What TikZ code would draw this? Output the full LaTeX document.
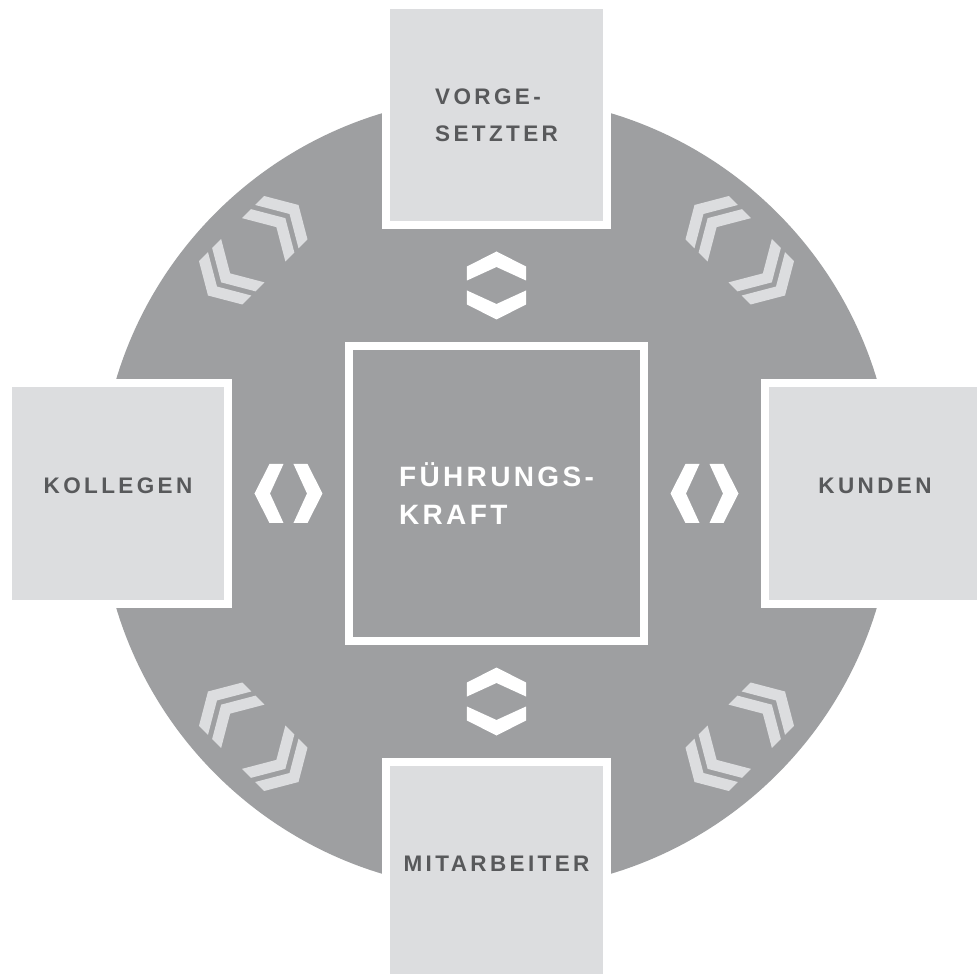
\documentclass[tikz,border=0pt]{standalone}
\usepackage{fontspec}
\setmainfont{Liberation Sans}
\usetikzlibrary{positioning}

\definecolor{ringgray}{RGB}{158,159,161}
\definecolor{boxgray}{RGB}{220,221,223}
\definecolor{labelgray}{RGB}{88,89,91}

\tikzset{
  ring/.style={circle, fill=ringgray, minimum size=794pt, inner sep=0pt},
  leaderbox/.style={draw=white, line width=8pt, fill=ringgray, minimum size=295pt,
    inner sep=0pt, text=white, align=left,
    font=\fontsize{28}{38}\selectfont\bfseries\addfontfeature{LetterSpace=12}},
  personbox/.style={draw=white, line width=8pt, fill=boxgray, minimum size=220pt,
    inner sep=0pt, text=labelgray,
    font=\fontsize{22.5}{37}\selectfont\bfseries\addfontfeature{LetterSpace=15}},
  oneline/.style={text depth=16.2pt},
}

\begin{document}
\begin{tikzpicture}[x=1pt,y=1pt]
	\useasboundingbox (-496.5,-480.5) rectangle (480.5,493.5);
	\fill[white] (-496.5,-480.5) rectangle (480.5,493.5);
	\node[ring] (ring) at (0,0) {};

	% double chevrons between neighbouring boxes
	\foreach \a in {45,135,225,315}
	  \foreach \s in {1,-1}
	    \foreach \o in {0,18.6}
	      \fill[boxgray, rotate=\a, xshift=344, yscale=\s, yshift=-\o]
	        (0,64) -- (-30.6,46.1) -- (-30.6,33.4) -- (0,51.3) -- (30.6,33.4) -- (30.6,46.1) -- cycle;

	% white arrows round the leader
	\foreach \a in {0,90,180,270}
	  \foreach \s in {1,-1}
	    \fill[white, rotate=\a, xshift=208, xscale=\s]
	      (34,0) -- (19,29.5) -- (5,29.5) -- (18.5,0) -- (5,-29.5) -- (19,-29.5) -- cycle;

	\node[leaderbox] (leader) at (0,0) {FÜHRUNGS-\\KRAFT};

	\node[personbox, align=left] (boss) at (0,378.5) {VORGE-\\SETZTER};
	\node[personbox, oneline] (peers) at (-378.5,0) {KOLLEGEN};
	\node[personbox, oneline] (clients) at (378.5,0) {KUNDEN};
	\node[personbox, oneline] (staff) at (0,-378.5) {MITARBEITER};
\end{tikzpicture}
\end{document}
